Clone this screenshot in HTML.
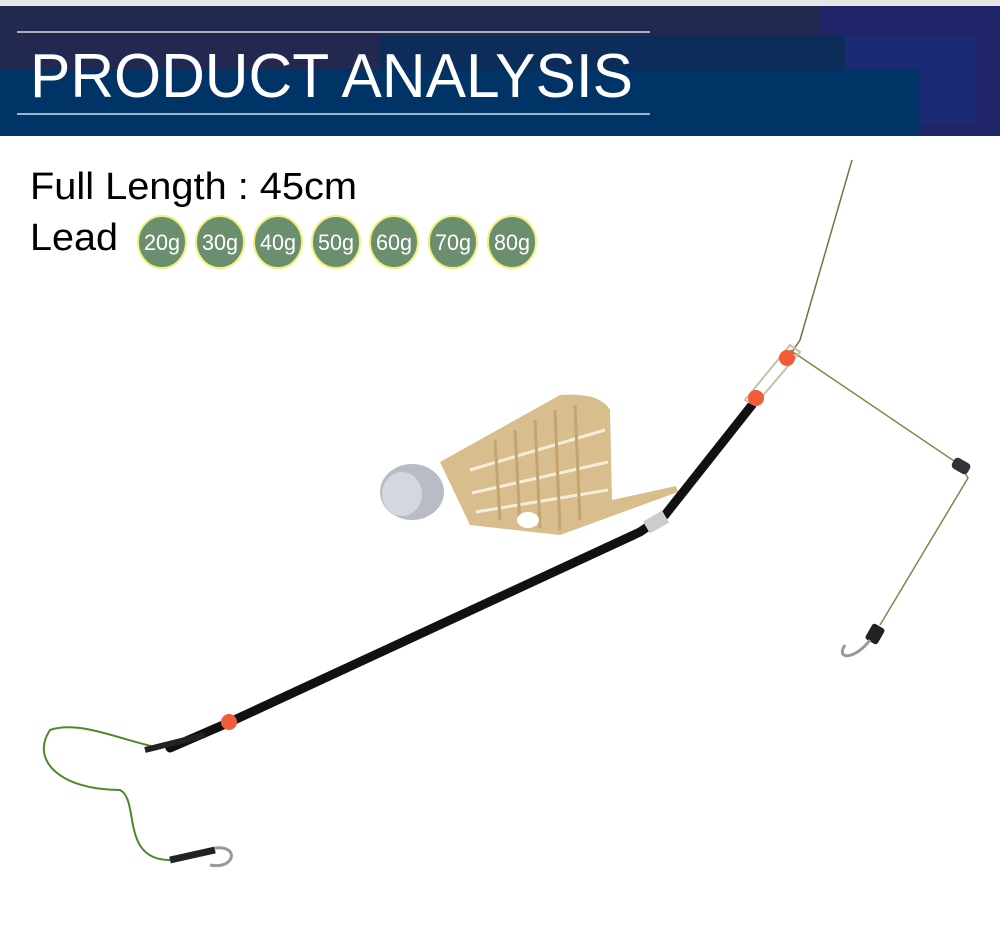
<!DOCTYPE html>
<html><head><meta charset="utf-8"><style>
html,body{margin:0;padding:0;background:#fff;}
svg{display:block;}
text{font-family:"Liberation Sans",Arial,sans-serif;}
</style></head><body>
<svg width="1000" height="935" viewBox="0 0 1000 935" xmlns="http://www.w3.org/2000/svg">
<rect x="0" y="0" width="1000" height="935" fill="#fff"/>
<rect x="0" y="0" width="1000" height="6" fill="#e6e6e6"/>
<rect x="0" y="6" width="1000" height="130" fill="#22284f"/>
<rect x="820" y="6" width="180" height="130" fill="#1f2468"/>
<rect x="380" y="36" width="595" height="88" fill="#0c2c5a"/>
<rect x="845" y="36" width="130" height="88" fill="#1a2a74"/>
<rect x="0" y="70" width="920" height="66" fill="#003366"/>
<line x1="17" y1="32" x2="650" y2="32" stroke="#fff" stroke-width="1.2"/>
<line x1="17" y1="114" x2="650" y2="114" stroke="#fff" stroke-width="1.2"/>
<text x="30" y="97" font-size="62" fill="#fff" textLength="603" lengthAdjust="spacingAndGlyphs">PRODUCT ANALYSIS</text>
<text x="30" y="199" font-size="38" fill="#000" textLength="327" lengthAdjust="spacingAndGlyphs">Full Length : 45cm</text>
<text x="30" y="250" font-size="38" fill="#000" textLength="88" lengthAdjust="spacingAndGlyphs">Lead</text>
<g fill="#6b8e6e" stroke="#eef27a" stroke-width="2">
<ellipse cx="162" cy="242" rx="24" ry="26"/><ellipse cx="220" cy="242" rx="24" ry="26"/>
<ellipse cx="278" cy="242" rx="24" ry="26"/><ellipse cx="336" cy="242" rx="24" ry="26"/>
<ellipse cx="394" cy="242" rx="24" ry="26"/><ellipse cx="453" cy="242" rx="24" ry="26"/>
<ellipse cx="512" cy="242" rx="24" ry="26"/>
</g>
<g fill="#fff" font-size="22" text-anchor="middle">
<text x="162" y="250" textLength="36" lengthAdjust="spacingAndGlyphs">20g</text><text x="220" y="250" textLength="36" lengthAdjust="spacingAndGlyphs">30g</text><text x="278" y="250" textLength="36" lengthAdjust="spacingAndGlyphs">40g</text>
<text x="336" y="250" textLength="36" lengthAdjust="spacingAndGlyphs">50g</text><text x="394" y="250" textLength="36" lengthAdjust="spacingAndGlyphs">60g</text><text x="453" y="250" textLength="36" lengthAdjust="spacingAndGlyphs">70g</text>
<text x="512" y="250" textLength="36" lengthAdjust="spacingAndGlyphs">80g</text>
</g>
<!-- lines -->
<polyline points="852,160 800,340 790,355" fill="none" stroke="#6b7a3a" stroke-width="1.5"/>
<polyline points="790,350 960,465 968,478 880,625" fill="none" stroke="#7a8a4a" stroke-width="1.5"/>
<path d="M160,748 C120,740 80,720 50,730 C30,760 60,790 120,790 C140,800 120,860 170,860" fill="none" stroke="#4a8a2a" stroke-width="2"/>
<!-- feeder -->
<ellipse cx="412" cy="492" rx="32" ry="28" fill="#b8bcc4"/>
<ellipse cx="402" cy="494" rx="20" ry="22" fill="#d4d8de"/>
<path d="M440,462 L560,395 Q600,392 610,410 L612,500 L676,486 L678,492 L560,535 L470,525 Z" fill="#d8be8c"/>
<g stroke="#f4ecdc" stroke-width="3">
<line x1="470" y1="470" x2="605" y2="430"/><line x1="472" y1="493" x2="608" y2="462"/><line x1="476" y1="512" x2="608" y2="490"/>
</g>
<g stroke="#c4a470" stroke-width="3">
<line x1="495" y1="440" x2="500" y2="520"/><line x1="515" y1="430" x2="520" y2="525"/><line x1="535" y1="420" x2="540" y2="528"/>
<line x1="555" y1="410" x2="560" y2="530"/><line x1="575" y1="405" x2="580" y2="520"/>
</g>
<ellipse cx="528" cy="520" rx="11" ry="8" fill="#fff"/>
<!-- boom -->
<path d="M170,748 L230,722 L640,532 L665,515 L752,405" fill="none" stroke="#111" stroke-width="9" stroke-linecap="round"/>
<path d="M145,750 L205,735" stroke="#222" stroke-width="6"/>
<polygon points="745,400 790,345 800,352 755,405" fill="none" stroke="#c8c0a8" stroke-width="2"/>
<circle cx="229" cy="722" r="8" fill="#f25a3a"/>
<circle cx="756" cy="398" r="8" fill="#f25a3a"/>
<circle cx="787" cy="358" r="8" fill="#f25a3a"/>
<rect x="952" y="460" width="18" height="12" rx="4" fill="#333" transform="rotate(30 961 466)"/>
<rect x="868" y="625" width="14" height="18" rx="3" fill="#222" transform="rotate(30 875 634)"/>
<path d="M870,640 C855,660 835,660 845,645" fill="none" stroke="#999" stroke-width="3"/>
<path d="M170,860 L215,850" stroke="#222" stroke-width="7"/>
<path d="M215,848 C240,845 235,870 210,865" fill="none" stroke="#999" stroke-width="3"/>
<rect x="645" y="515" width="22" height="14" fill="#ccc" transform="rotate(-30 656 522)"/>
</svg>
</body></html>
